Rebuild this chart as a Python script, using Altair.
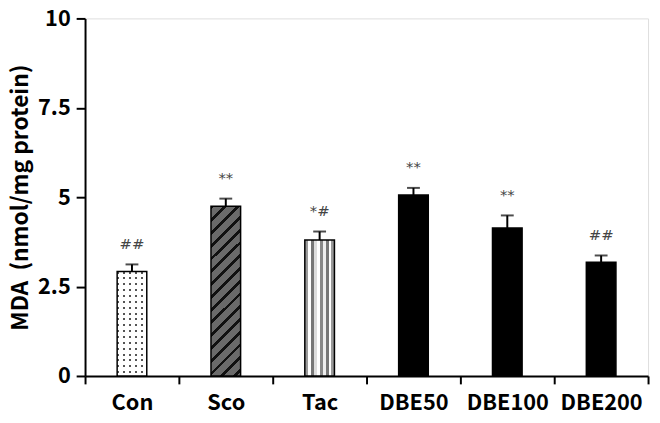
import altair as alt
import pandas as pd

groups = ["Con", "Sco", "Tac", "DBE50", "DBE100", "DBE200"]
means = [2.92, 4.75, 3.80, 5.06, 4.14, 3.18]
sems = [0.20, 0.21, 0.24, 0.20, 0.35, 0.19]
marks = ["##", "**", "*#", "**", "**", "##"]
ticks = [0, 2.5, 5, 7.5, 10]

df = pd.DataFrame({"group": groups, "mean": means, "sem": sems, "mark": marks})
df["upper"] = df["mean"] + df["sem"]

FONT = "Noto Sans CJK KR"


def stripes(period, frac, c_on, c_off, x1, y1, x2, y2, tmax=1.0):
    stops = []
    k = 0
    while k * period < tmax:
        a = k * period
        b = min(a + frac * period, 1.0)
        c = min(a + period, 1.0)
        stops += [{"offset": a, "color": c_on}, {"offset": b, "color": c_on},
                  {"offset": b, "color": c_off}, {"offset": c, "color": c_off}]
        k += 1
    return {"gradient": "linear", "x1": x1, "y1": y1, "x2": x2, "y2": y2, "stops": stops}


x_enc = alt.X("group:N", sort=groups,
              scale=alt.Scale(paddingInner=0, paddingOuter=0),
              axis=alt.Axis(title=None, labelAngle=0, labelFont=FONT, labelFontSize=22,
                            labelFontWeight="bold", labelColor="black", labelPadding=9,
                            domainWidth=2, domainColor="black", tickWidth=2, tickColor="black",
                            tickSize=8, tickBand="extent"))
y_enc = alt.Y("mean:Q", scale=alt.Scale(domain=[0, 10]),
              axis=alt.Axis(values=ticks, labelExpr="'' + datum.value", grid=False,
                            title="MDA\u00a0\u00a0(nmol/mg protein)", titleFont=FONT, titleFontSize=23,
                            titleFontWeight="bold", titleColor="black", titlePadding=5,
                            labelFont=FONT, labelFontSize=22, labelFontWeight="bold",
                            labelColor="black", labelPadding=6,
                            domainWidth=2, domainColor="black", tickWidth=2,
                            tickColor="black", tickSize=9))

base = alt.Chart(df)


def bar(name, **kw):
    return base.transform_filter(alt.datum.group == name).mark_bar(size=30, **kw).encode(x=x_enc, y=y_enc)


# Con: dotted
con_rows = bar("Con", fill=stripes(6 / 107, 0.35, "#555555", "#ffffff", 0, 0, 0, 1))
con_cols = bar("Con", fill=stripes(6 / 30, 0.35, "rgba(255,255,255,0)", "#ffffff", 0, 0, 1, 0),
               stroke="black", strokeWidth=1.5)
# Sco: diagonal stripes
sco = bar("Sco", fill=stripes(13 / 205, 0.3, "#111111", "#6a6a6a", 0, 0, 0.2, 1.15),
          stroke="black", strokeWidth=1.5)
# Tac: vertical stripes
tac_stops = []
tac_cols = ["#9a9a9a", "#ffffff", "#777777", "#dddddd", "#ffffff", "#888888",
            "#eeeeee", "#777777", "#ffffff", "#999999"]
for i, c in enumerate(tac_cols):
    tac_stops += [{"offset": i / len(tac_cols), "color": c},
                  {"offset": (i + 1) / len(tac_cols), "color": c}]
tac = bar("Tac", fill={"gradient": "linear", "x1": 0, "y1": 0, "x2": 1, "y2": 0, "stops": tac_stops},
          stroke="black", strokeWidth=1.5)
dbe = base.transform_filter(alt.FieldOneOfPredicate(field="group", oneOf=["DBE50", "DBE100", "DBE200"])).mark_bar(
    size=30, fill="black", stroke="black", strokeWidth=1.5).encode(x=x_enc, y=y_enc)

err = base.mark_rule(color="black", strokeWidth=2).encode(x=x_enc, y="mean:Q", y2="upper:Q")
cap = base.mark_tick(color="black", thickness=2, size=13).encode(x=x_enc, y="upper:Q")
txt = base.mark_text(dy=-21, fontSize=15, color="#444444", font="DejaVu Sans", baseline="middle").encode(
    x=x_enc, y="upper:Q", text="mark:N")

chart = alt.layer(con_rows, con_cols, sco, tac, dbe, err, cap, txt).properties(
    width=570, height=362,
    autosize=alt.AutoSizeParams(type="none"),
    padding={"left": 78, "top": 8, "right": 4, "bottom": 40},
).configure_view(stroke=None).configure(background="white")

chart.save("out.html", embed_options={"renderer": "svg", "actions": False})
